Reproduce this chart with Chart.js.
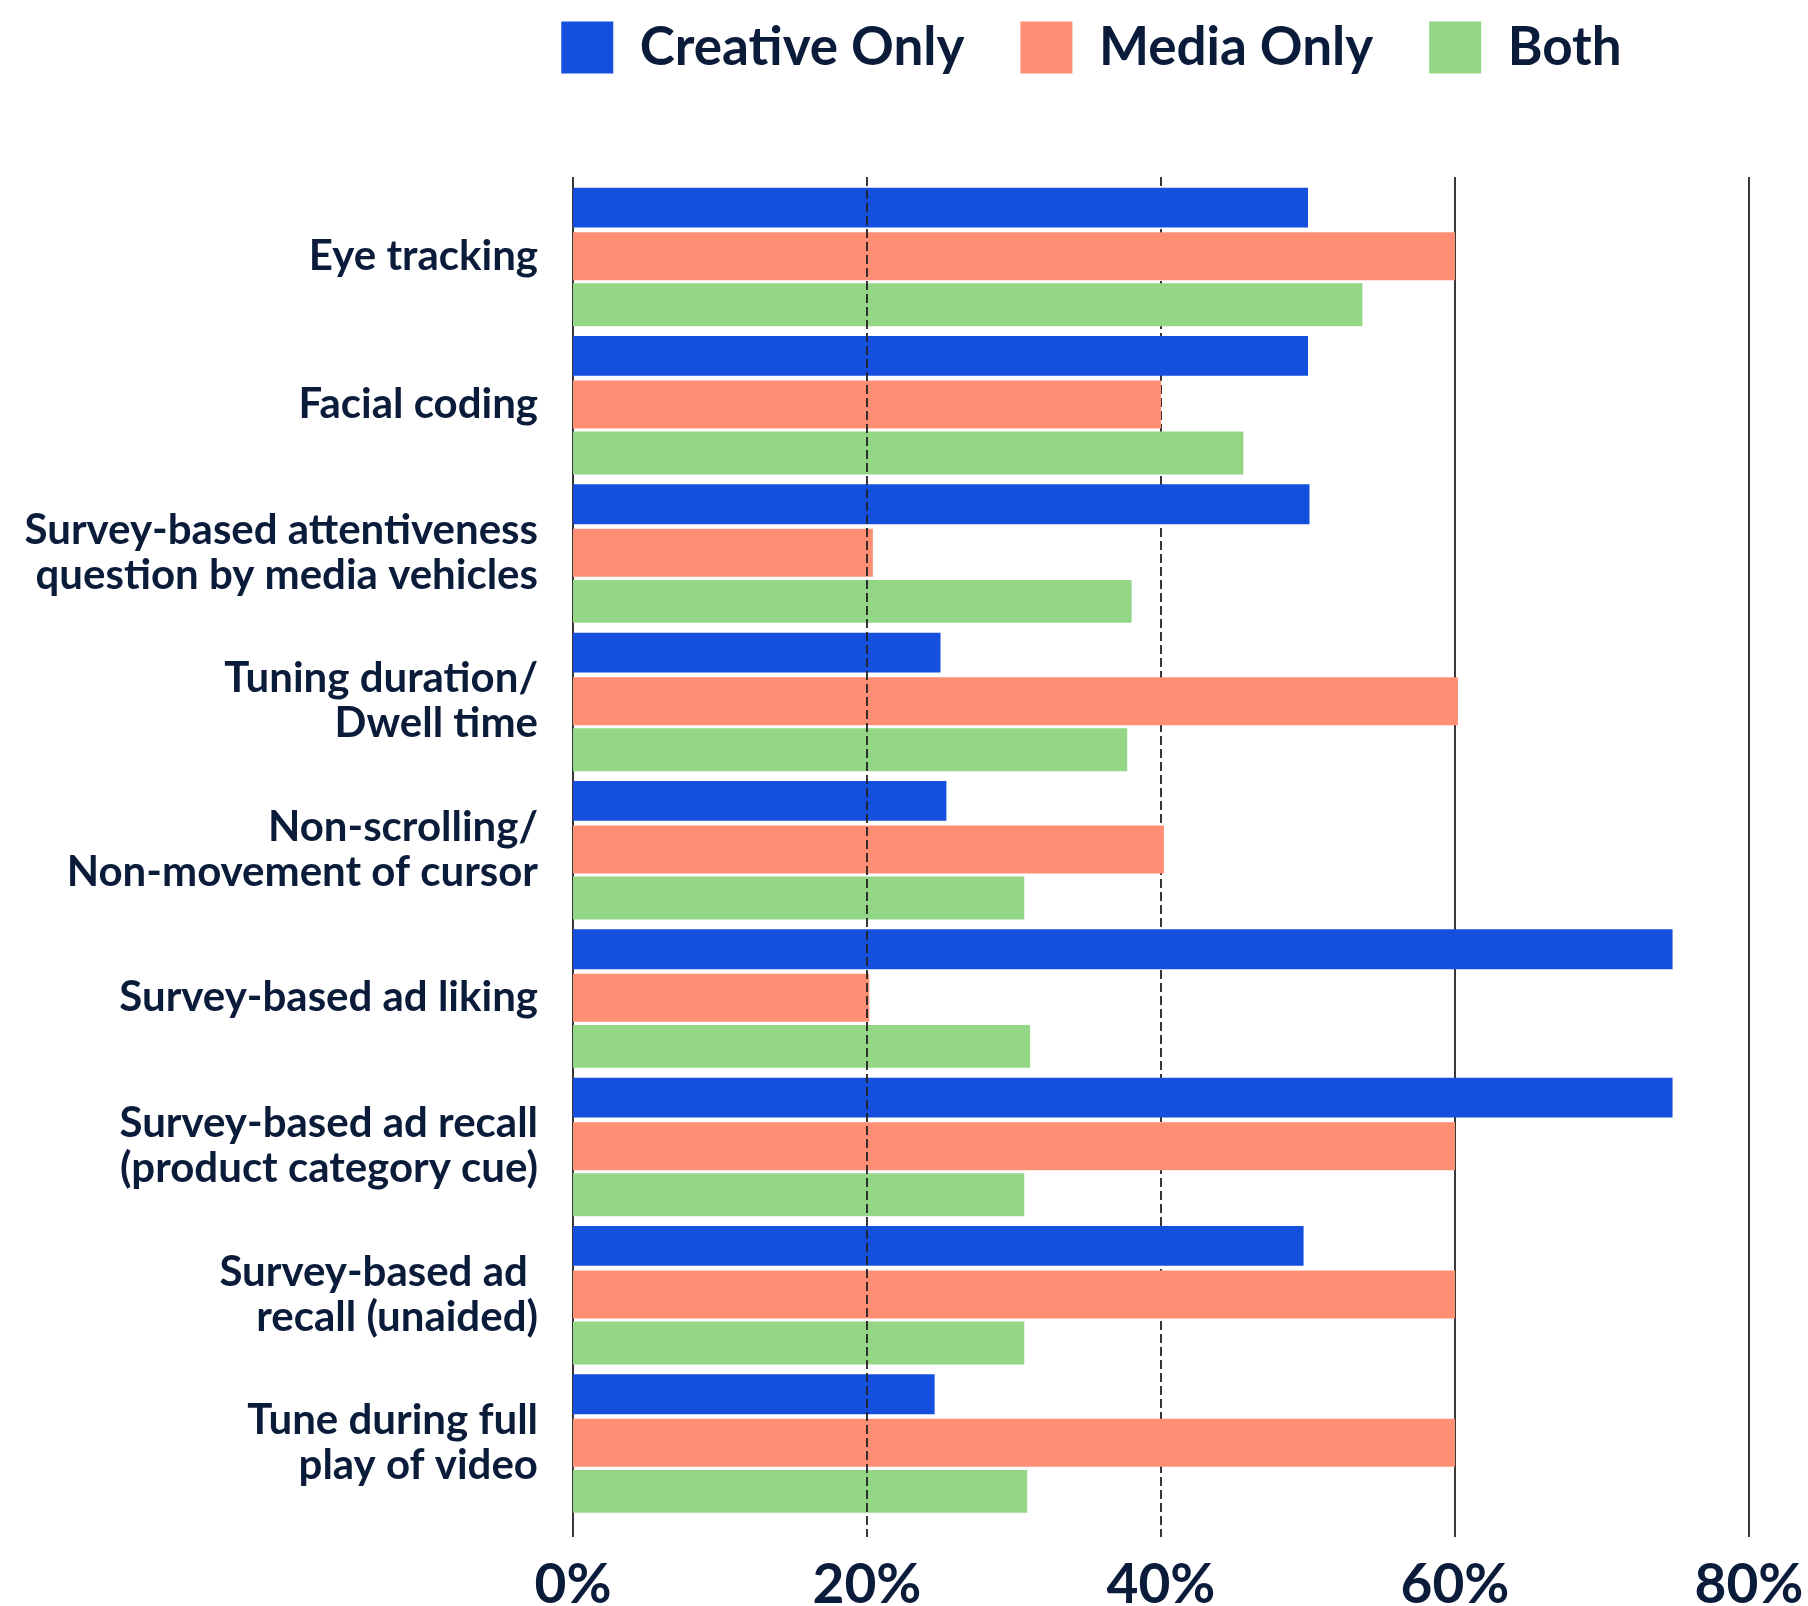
<!DOCTYPE html>
<html>
<head>
<meta charset="utf-8">
<script src="https://cdn.jsdelivr.net/npm/chart.js@4/dist/chart.umd.min.js"></script>
<style>
  html, body { margin: 0; padding: 0; background: #ffffff; }
  canvas { display: block; }
</style>
</head>
<body>
<canvas id="chart" width="1808" height="1606"></canvas>
<script>
// Attention measures, grouped by who uses them (share of respondents, %)
const categories = [
  ['Eye tracking'],
  ['Facial coding'],
  ['Survey-based attentiveness', 'question by media vehicles'],
  ['Tuning duration/', 'Dwell time'],
  ['Non-scrolling/', 'Non-movement of cursor'],
  ['Survey-based ad liking'],
  ['Survey-based ad recall', '(product category cue)'],
  ['Survey-based ad ', 'recall (unaided)'],
  ['Tune during full', 'play of video']
];
const seriesNames = ['Creative Only', 'Media Only', 'Both'];
const creativeOnly = [50, 50, 50.1, 25.0, 25.4, 74.8, 74.8, 49.7, 24.6];
const mediaOnly    = [60, 40, 20.4, 60.2, 40.2, 20.15, 60, 60, 60];
const both         = [53.7, 45.6, 38.0, 37.7, 30.7, 31.1, 30.7, 30.7, 30.9];
const xTickValues  = [0, 20, 40, 60, 80];
const xTickLabels  = ['0%', '20%', '40%', '60%', '80%'];

const INK = '#0b1c3a';
const FONT = 'Lato, "Open Sans", sans-serif';

// Vertical reference lines: some dashed, one drawn over the bars
const gridDashed = [false, true, true, false, false];
const gridOnTop  = [false, true, false, false, false];

function drawGrid(chart, onTop) {
  const xs = chart.scales.x;
  const area = chart.chartArea;
  const ctx = chart.ctx;
  ctx.save();
  ctx.strokeStyle = '#222222';
  ctx.lineWidth = 1.8;
  xTickValues.forEach((v, i) => {
    if (gridOnTop[i] !== onTop) return;
    const px = Math.round(xs.getPixelForValue(v));
    ctx.setLineDash(gridDashed[i] ? [9, 4] : []);
    ctx.beginPath();
    ctx.moveTo(px, area.top - 5);
    ctx.lineTo(px, area.bottom + 20);
    ctx.stroke();
  });
  ctx.restore();
}

const gridLines = {
  id: 'gridLines',
  beforeDatasetsDraw(chart) { drawGrid(chart, false); },
  afterDatasetsDraw(chart) { drawGrid(chart, true); }
};

// Extra room under the legend and a horizontal shift of the legend row
const legendLayout = {
  id: 'legendLayout',
  beforeInit(chart) {
    const legend = chart.legend;
    const fit = legend.fit;
    legend.fit = function () {
      fit.call(this);
      this.height += 98;
    };
  },
  afterLayout(chart) {
    chart.legend.left += 217;
    chart.legend.right += 217;
  }
};

new Chart(document.getElementById('chart'), {
  type: 'bar',
  data: {
    labels: categories,
    datasets: [
      { label: seriesNames[0], data: creativeOnly, backgroundColor: '#1450dd', barPercentage: 0.82 },
      { label: seriesNames[1], data: mediaOnly,    backgroundColor: '#ff8f74', barPercentage: 0.99 },
      { label: seriesNames[2], data: both,         backgroundColor: '#93d686', barPercentage: 0.885 }
    ]
  },
  options: {
    indexAxis: 'y',
    responsive: false,
    animation: false,
    datasets: { bar: { categoryPercentage: 0.982 } },
    layout: { padding: { top: -35, right: 59, left: 0, bottom: 0 } },
    scales: {
      x: {
        min: 0,
        max: 80,
        afterBuildTicks: s => { s.ticks = xTickValues.map(v => ({ value: v })); },
        afterFit: s => { s.height = 89; s.paddingLeft = 0; s.paddingRight = 0; },
        grid: { display: false },
        border: { display: false },
        ticks: {
          callback: (v, i) => xTickLabels[i],
          color: INK,
          padding: 27,
          maxRotation: 0,
          font: { family: FONT, size: 55, weight: 'bold' }
        }
      },
      y: {
        afterFit: s => { s.width = 573; },
        grid: { display: false },
        border: { display: false },
        ticks: {
          color: INK,
          padding: 27,
          font: { family: FONT, size: 42, weight: 'bold', lineHeight: 1.07 }
        }
      }
    },
    plugins: {
      legend: {
        position: 'top',
        align: 'center',
        labels: {
          boxWidth: 52,
          boxHeight: 52,
          padding: 56,
          color: INK,
          font: { family: FONT, size: 53, weight: 'bold' }
        }
      },
      tooltip: { enabled: false }
    }
  },
  plugins: [gridLines, legendLayout]
});
</script>
</body>
</html>
